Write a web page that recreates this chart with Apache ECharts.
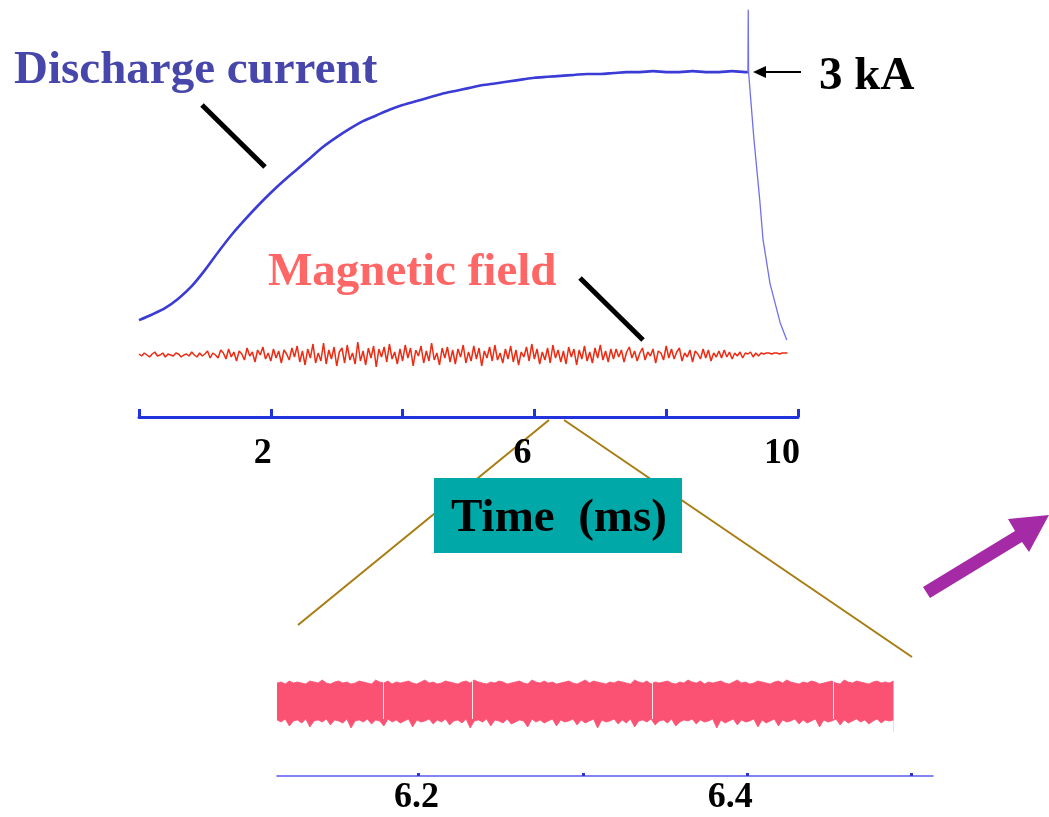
<!DOCTYPE html>
<html>
<head>
<meta charset="utf-8">
<script src="https://cdn.jsdelivr.net/npm/echarts@6/dist/echarts.min.js"></script>
<style>
html,body{margin:0;padding:0;background:#fff;}
#chart{width:1049px;height:817px;}
</style>
</head>
<body>
<div id="chart"></div>
<script>
// ---------- DATA ----------
// Discharge current (kA) vs time (ms): rising part
const currentTimes = [0,0.2,0.4,0.6,0.8,1.0,1.2,1.4,1.6,1.8,2.0,2.2,2.4,2.6,2.8,3.0,3.2,3.4,3.6,3.8,4.0,4.2,4.4,4.6,4.8,5.0,5.2,5.4,5.6,5.8,6.0,6.2,6.4,6.6,6.8,7.0,7.2,7.4,7.6,7.8,8.0,8.2,8.4,8.6,8.8,9.0,9.2,9.24];
const currentValues = [0.37,0.43,0.50,0.60,0.73,0.90,1.09,1.27,1.43,1.58,1.72,1.85,1.97,2.09,2.21,2.31,2.40,2.48,2.54,2.60,2.65,2.69,2.73,2.77,2.80,2.83,2.86,2.88,2.90,2.92,2.94,2.95,2.96,2.97,2.98,2.98,2.99,3.00,3.00,3.01,3.00,3.00,3.01,3.00,3.00,3.01,3.00,3.00];
// Discharge current: spike and termination
const tailTimes = [9.24,9.245,9.25,9.33,9.42,9.47,9.575,9.73,9.83];
const tailValues = [3.00,3.66,3.00,2.30,1.64,1.22,0.76,0.34,0.16];

// Magnetic field (arb. units), sampled every magDt ms from t = 0
const magDt = 0.04;
const magValues = [
 1,-1,2,0,-2,1,3,-1,0,2,-2,1,0,-1,2,1,-2,0,1,-1,3,0,-2,2,-1,1,4,-3,2,0,
 -3,5,2,-4,6,-2,3,-6,4,1,-5,7,-1,3,-7,5,0,8,-4,2,-6,6,-3,4,-8,5,1,-5,7,-2,
 9,-7,4,-10,6,-3,11,-8,2,-6,12,-9,5,-4,8,-11,3,7,-8,10,
 -5,2,-9,13,-6,4,-10,7,-3,9,-12,6,-2,8,-7,11,-4,3,-9,6,
 -6,10,-3,7,-11,5,-1,9,-8,4,-6,12,-5,2,-10,7,-3,8,-7,5,
 -9,6,-2,10,-8,3,-6,9,-4,7,-11,4,-3,8,-6,10,-5,2,-8,6,
 -4,9,-7,5,-10,3,-2,8,-6,11,-4,6,-9,3,-5,7,-8,10,-3,5,
 -7,4,-9,8,-2,6,-10,5,-4,9,-6,3,-8,7,-3,10,-5,4,-7,6,
 -4,6,-2,5,-7,3,8,-3,4,-6,2,7,-5,3,-1,6,-8,4,2,-5,
 9,-3,6,-4,3,7,-6,2,-2,5,-7,4,1,-4,6,-3,5,-6,2,-2,
 4,-3,5,-2,3,-4,2,-1,3,-3,2,1,
 3,-2,2,-1,2,1,2,2,1,2,2,1,2,2,2
];

// Zoomed magnetic field (6.1 - 6.5 ms): envelope of the dense trace
const zoomT0 = 6.114;
const zoomDt = 0.0025;
const zoomUpper = [
 93,94,92,95,93,94,93,92,95,94,93,96,93,92,94,95,93,94,92,93,
 95,94,93,92,96,94,93,95,92,94,93,94,95,93,92,94,96,93,94,92,
 93,95,94,93,92,94,95,93,96,94,93,92,94,93,95,94,92,93,94,95,
 93,92,96,94,93,95,93,94,92,93,94,95,93,92,94,96,93,95,94,93,
 92,94,93,95,94,93,92,96,94,93,95,92,94,93,94,95,93,92,94,93,
 96,94,93,95,92,94,93,94,95,93,92,94,96,93,94,92,93,95,94,93,
 92,94,95,93,96,94,93,92,94,93,95,94,92,93,94,95,93,92,96,94,
 93,95,94,93,92,94,95,93,94,93,95
];
const zoomLower = [
 56,54,57,50,55,56,53,57,49,55,56,54,57,51,56,55,53,57,48,55,
 56,54,57,52,56,55,50,57,54,56,53,55,57,49,56,54,55,57,52,56,
 54,57,51,55,56,53,57,48,55,56,54,57,50,56,55,53,57,52,54,56,
 55,49,57,54,56,53,55,57,50,56,54,55,57,51,56,53,55,57,48,56,
 54,55,57,52,56,53,57,49,55,56,54,57,51,55,56,53,57,50,54,56,
 55,57,52,56,54,55,57,48,56,53,55,57,51,56,54,55,57,49,56,53,
 55,57,50,56,54,55,57,52,56,53,55,57,49,56,54,55,57,51,56,53,
 55,57,54,56,52,55,57,53,56,55,56
];
const zoomGapTimes = [6.1787, 6.2328, 6.3422, 6.4523];

// Axis ticks and labels
const mainTicks = [0, 2, 4, 6, 8, 10];
const mainLabeled = [2, 6, 10];
const zoomTicks = [6.2, 6.3, 6.4, 6.5];
const zoomLabeled = [6.2, 6.4];

// ---------- BUILD ----------
const serif = '"Liberation Serif", "Times New Roman", serif';
const currentData = currentTimes.map((t, i) => [t, currentValues[i]]);
const tailData = tailTimes.map((t, i) => [t, tailValues[i]]);
const magData = magValues.map((v, i) => [+(i * magDt).toFixed(4), v]);
const zoomTimes = zoomUpper.map((v, i) => +(zoomT0 + i * zoomDt).toFixed(5));
const zoomUpperData = zoomUpper.map((v, i) => [zoomTimes[i], v]);
const zoomLowerData = zoomLower.map((v, i) => [zoomTimes[i], v]);

const mainShift = {2: 16, 6: 24, 10: 32};
const zoomShift = {'6.2': 4, '6.4': 34};
const bandColor = '#fb5274';

const chart = echarts.init(document.getElementById('chart'), null, {renderer: 'canvas'});
const option = {
  animation: false,
  backgroundColor: '#ffffff',
  grid: [
    {left: 139, right: 251, top: 5, bottom: 400},
    {left: 277, right: 116, top: 600, bottom: 41}
  ],
  xAxis: [
    {
      gridIndex: 0, type: 'value', min: 0, max: 10, interval: 2, z: 5,
      axisLine: {onZero: false, lineStyle: {color: '#2233dd', width: 3}},
      axisTick: {inside: true, length: 8, lineStyle: {color: '#2233dd', width: 3}},
      splitLine: {show: false},
      axisLabel: {
        margin: 19,
        formatter: v => mainLabeled.indexOf(v) >= 0 ? '{l' + v + '|' + v + '}' : '',
        rich: Object.fromEntries(mainLabeled.map(v => ['l' + v, {
          fontFamily: serif, fontWeight: 'bold', fontSize: 36, color: '#000',
          padding: [0, mainShift[v], 0, 0]
        }]))
      }
    },
    {
      gridIndex: 1, type: 'value', min: 6.114, max: 6.513, z: 5,
      axisLine: {onZero: false, lineStyle: {color: '#5a5aee', width: 1.5}},
      axisTick: {customValues: zoomTicks, length: 3, inside: true, lineStyle: {color: '#3333cc', width: 3}},
      splitLine: {show: false},
      axisLabel: {
        customValues: zoomLabeled,
        margin: 4,
        formatter: v => {
          const s = v.toFixed(1);
          return zoomLabeled.map(x => x.toFixed(1)).indexOf(s) >= 0 ? '{z' + s.replace('.', '_') + '|' + s + '}' : '';
        },
        rich: Object.fromEntries(zoomLabeled.map(v => ['z' + v.toFixed(1).replace('.', '_'), {
          fontFamily: serif, fontWeight: 'bold', fontSize: 36, color: '#000',
          padding: [0, zoomShift[v.toFixed(1)], 0, 0]
        }]))
      }
    }
  ],
  yAxis: [
    {gridIndex: 0, type: 'value', min: -0.6575, max: 3.7116, show: false},
    {gridIndex: 0, type: 'value', min: -62, max: 350, show: false},
    {gridIndex: 1, type: 'value', min: 0, max: 176, show: false}
  ],
  series: [
    {
      name: 'Magnetic field', type: 'line', xAxisIndex: 0, yAxisIndex: 1,
      data: magData, symbol: 'none',
      lineStyle: {color: '#ee2a12', width: 1.5}, z: 2
    },
    {
      name: 'Discharge current', type: 'line', xAxisIndex: 0, yAxisIndex: 0,
      data: currentData, symbol: 'none', smooth: 0.3,
      lineStyle: {color: '#3b3bd6', width: 2.6}, z: 3
    },
    {
      name: 'Discharge current tail', type: 'line', xAxisIndex: 0, yAxisIndex: 0,
      data: tailData, symbol: 'none',
      lineStyle: {color: '#7070ee', width: 1.3}, z: 3
    },
    {
      name: 'Magnetic field (zoom) upper', type: 'line', xAxisIndex: 1, yAxisIndex: 2,
      data: zoomUpperData, symbol: 'none', z: 2,
      lineStyle: {color: bandColor, width: 0.8},
      areaStyle: {color: bandColor, opacity: 1, origin: 44},
      markLine: {
        silent: true, symbol: 'none', label: {show: false},
        lineStyle: {color: '#ffe8ec', width: 1, type: 'solid'},
        data: zoomGapTimes.map(t => [{coord: [t, 57]}, {coord: [t, 95]}])
      }
    },
    {
      name: 'Magnetic field (zoom) lower', type: 'line', xAxisIndex: 1, yAxisIndex: 2,
      data: zoomLowerData, symbol: 'none', z: 3,
      lineStyle: {color: bandColor, width: 0.8},
      areaStyle: {color: '#ffffff', opacity: 1, origin: 44}
    }
  ],
  graphic: [
    {type: 'text', x: 14, y: 71, style: {text: 'Discharge current', font: 'bold 47px ' + serif, fill: '#4747ab', align: 'left', verticalAlign: 'middle'}},
    {type: 'text', x: 268, y: 273, style: {text: 'Magnetic field', font: 'bold 47px ' + serif, fill: '#ff6666', align: 'left', verticalAlign: 'middle'}},
    {type: 'text', x: 819, y: 77, style: {text: '3 kA', font: 'bold 47px ' + serif, fill: '#000', align: 'left', verticalAlign: 'middle'}},
    {type: 'line', shape: {x1: 202, y1: 105, x2: 265, y2: 167}, style: {stroke: '#000', lineWidth: 5}},
    {type: 'line', shape: {x1: 580, y1: 278, x2: 643, y2: 340}, style: {stroke: '#000', lineWidth: 5}},
    {type: 'line', shape: {x1: 762, y1: 72, x2: 801, y2: 72}, style: {stroke: '#000', lineWidth: 2}},
    {type: 'polygon', shape: {points: [[753, 72], [766, 66], [766, 78]]}, style: {fill: '#000'}},
    {type: 'line', shape: {x1: 549, y1: 420, x2: 298, y2: 625}, style: {stroke: '#a87c10', lineWidth: 2}},
    {type: 'line', shape: {x1: 564, y1: 420, x2: 912, y2: 657}, style: {stroke: '#a87c10', lineWidth: 2}},
    {type: 'rect', shape: {x: 434, y: 478, width: 248, height: 75}, style: {fill: '#00a8a8'}, z: 10},
    {type: 'text', x: 559, y: 519, z: 11, style: {text: 'Time  (ms)', font: 'bold 47px ' + serif, fill: '#000', align: 'center', verticalAlign: 'middle'}},
    {type: 'polygon', shape: {points: [[923, 587], [1015, 531], [1008, 519], [1049, 515], [1029, 552], [1022, 542], [930, 598]]}, style: {fill: '#a52aa5'}}
  ]
};
chart.setOption(option);
</script>
</body>
</html>
